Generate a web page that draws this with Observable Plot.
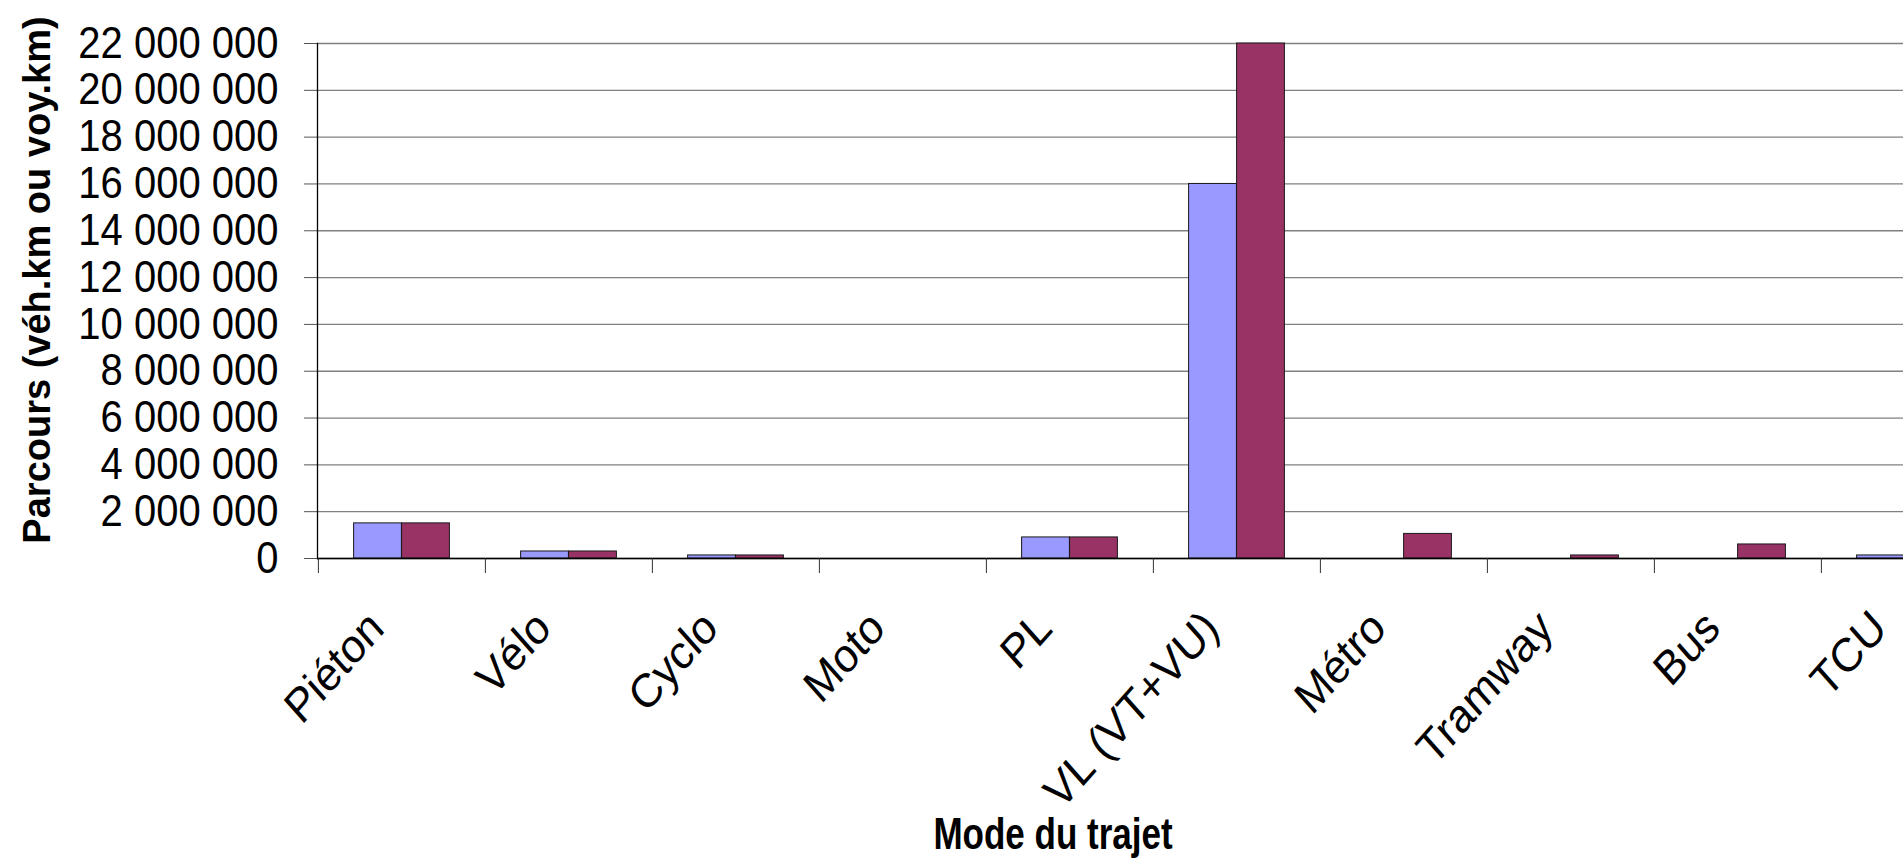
<!DOCTYPE html>
<html><head><meta charset="utf-8">
<script src="https://cdn.jsdelivr.net/npm/d3@7"></script>
<script src="https://cdn.jsdelivr.net/npm/@observablehq/plot@0.6"></script>
<style>
html,body{margin:0;padding:0;background:#fff;overflow:hidden;}
#chart svg{display:block;overflow:hidden;}
</style></head><body><div id="chart"></div>
<script>
const categories = ["Piéton","Vélo","Cyclo","Moto","PL","VL (VT+VU)","Métro","Tramway","Bus","TCU"];
const serie1 = [1500000, 300000, 130000, 0, 900000, 16000000, 0, 0, 0, 130000];
const serie2 = [1500000, 300000, 130000, 0, 900000, 22000000, 1050000, 130000, 600000, 130000];
const yTicks = [0, 2000000, 4000000, 6000000, 8000000, 10000000, 12000000, 14000000, 16000000, 18000000, 20000000, 22000000];
const yTitle = "Parcours (véh.km ou voy.km)";
const xTitle = "Mode du trajet";

const data1 = categories.map((c, i) => ({mode: c, value: serie1[i]}));
const data2 = categories.map((c, i) => ({mode: c, value: serie2[i]}));

const fr = d3.formatLocale({decimal: ",", thousands: " ", grouping: [3], currency: ["", " €"]});
const fmt = fr.format(",d");

const left = 317;
const step = 167.2;
const barW = 48;
const inOuter = step / 2 - barW;
const inInner = step / 2;

const plot = Plot.plot({
  width: 1903, height: 858,
  marginLeft: left, marginRight: 0, marginTop: 43, marginBottom: 300,
  style: {fontFamily: "'Liberation Sans', Arial, sans-serif", background: "#fff", color: "#000"},
  x: {type: "band", domain: categories, range: [left, left + step * categories.length], padding: 0},
  y: {domain: [0, 22000000]},
  marks: [
    Plot.gridY(yTicks, {stroke: "#808080", strokeOpacity: 1, strokeWidth: 1.3}),
    Plot.axisY(yTicks, {tickSize: 13, tickPadding: 26, tickFormat: fmt, fontSize: 40, stroke: "#555", label: null}),
    Plot.barY(data1, {x: "mode", y: "value", fill: "#9999FF", stroke: "#1a1a1a", strokeWidth: 1, insetLeft: inOuter, insetRight: inInner}),
    Plot.barY(data2, {x: "mode", y: "value", fill: "#993366", stroke: "#1a1a1a", strokeWidth: 1, insetLeft: inInner, insetRight: inOuter}),
    Plot.ruleY([0], {stroke: "#000", strokeWidth: 1.5}),
    Plot.axisX({tickSize: 15, tickFormat: () => "", dx: -step / 2, stroke: "#333", label: null}),
    Plot.frame({anchor: "left", stroke: "#000", strokeWidth: 1.3}),
    Plot.text(categories, {x: d => d, text: d => d, frameAnchor: "bottom", rotate: -45, textAnchor: "end", lineAnchor: "bottom", fontSize: 42, dx: -16, dy: 72, fill: "#000"}),
    Plot.text([yTitle], {text: d => d, frameAnchor: "left", rotate: -90, textAnchor: "middle", lineAnchor: "middle", dx: -280, dy: -21, fontSize: 38, fontWeight: "bold", fill: "#000"}),
    Plot.text([xTitle], {text: d => d, frameAnchor: "bottom-left", textAnchor: "middle", lineAnchor: "bottom", dx: 735.5, dy: 290, fontSize: 35, fontWeight: "bold", fill: "#000"})
  ]
});
document.getElementById("chart").appendChild(plot);

// tall, narrow glyph look of the original texts
function stretch(e, sy) {
  const tr = e.getAttribute("transform");
  if (tr) {
    if (tr.includes("rotate(")) e.setAttribute("transform", tr.replace("rotate(", `scale(1,${sy}) rotate(`));
    else e.setAttribute("transform", tr + ` scale(1,${sy})`);
  } else {
    const x = +e.getAttribute("x") || 0, y = +e.getAttribute("y") || 0;
    e.removeAttribute("x"); e.removeAttribute("y");
    e.setAttribute("transform", `translate(${x},${y}) scale(1,${sy})`);
  }
}
for (const e of plot.querySelectorAll("text")) {
  const s = e.textContent;
  if (s === xTitle) stretch(e, 1.28);
  else if (categories.includes(s)) stretch(e, 1.13);
  else if (/^\d[\d\s]*$/.test(s)) stretch(e, 1.1);
}
</script></body></html>
